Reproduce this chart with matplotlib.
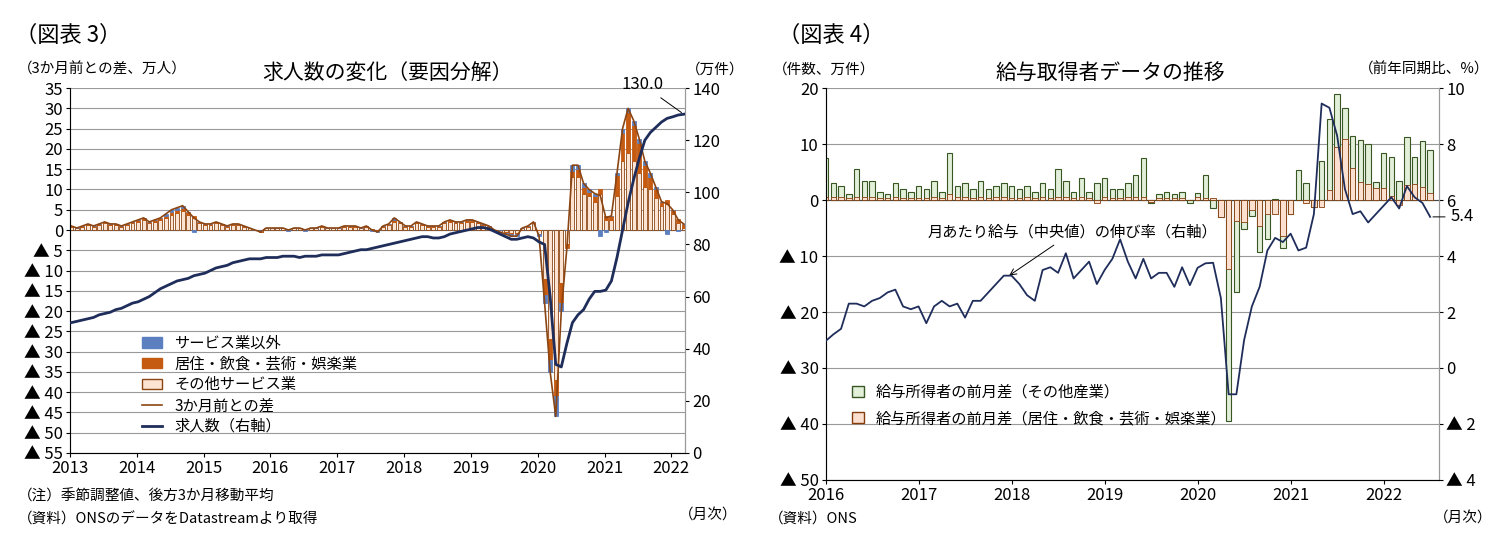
import matplotlib
matplotlib.use("Agg")
import matplotlib.pyplot as plt
from matplotlib.patches import Patch
from matplotlib.lines import Line2D
import numpy as np

plt.rcParams["font.family"] = ["Noto Sans CJK JP", "DejaVu Sans"]

# ---------------- Left chart data (2013-01 .. 2022-03, monthly) ----------------
diff_total = [
    1, 0.5, 1, 1.5, 1, 1.5, 2, 1.5, 1.5, 1, 1.5, 2,
    2.5, 3, 2, 2.5, 3, 4, 5, 5.5, 6, 4.5, 3, 2,
    1.5, 1.5, 2, 1.5, 1, 1.5, 1.5, 1, 0.5, 0, -0.5, 0.5,
    0.5, 0.5, 0.5, 0, 0.5, 0.5, 0, 0.5, 0.5, 1, 0.5, 0.5,
    0.5, 1, 1, 1, 0.5, 1, 0, -0.5, 1, 1.5, 3, 2,
    1, 1, 2, 1.5, 1, 1, 1, 2, 2.5, 2, 2, 2.5,
    2.5, 2, 1.5, 1, 0, -0.5, -1, -1.5, -1.5, 0.5, 1, 2,
    -1.5, -18, -35, -46, -20, -4.5, 16, 16, 11.5, 10, 9, 8.5,
    3, 3.5, 14, 25, 30, 27, 22.5, 17, 14, 10.5, 7, 6.5,
    5, 2.5, 1.5]
hosp = [
    0.2, 0, 0.2, 0.2, 0.2, 0.2, 0.3, 0.2, 0.2, 0.2, 0.2, 0.3,
    0.4, 0.5, 0.3, 0.4, 0.5, 0.6, 0.8, 0.8, 0.9, 0.7, 0.5, 0.3,
    0.2, 0.2, 0.3, 0.2, 0.2, 0.2, 0.2, 0.2, 0, 0, -0.1, 0,
    0, 0, 0, 0, 0, 0, 0, 0, 0, 0.2, 0, 0,
    0, 0.2, 0.2, 0.2, 0, 0.2, 0, -0.1, 0.2, 0.2, 0.4, 0.3,
    0.2, 0.2, 0.3, 0.2, 0.2, 0.2, 0.2, 0.3, 0.4, 0.3, 0.3, 0.4,
    0.4, 0.3, 0.2, 0.2, 0, -0.1, -0.2, -0.2, -0.2, 0, 0.2, 0.3,
    0, -4, -5, -4, -5, -1, 1.5, 2, 1.5, 1, 1.5, 1,
    1, 1, 5, 7, 10, 9, 7.5, 5.5, 3, 2, 1, 1,
    1, 1, 1]
nonserv = [
    0, 0, 0, 0, 0, 0, 0, 0, 0, 0, 0, 0,
    0, 0, 0, 0, 0, 0.5, 0.5, 0.5, 0.5, 0, -0.5, 0,
    0, 0, 0, 0, 0, 0, 0, 0, 0, 0, 0, 0,
    0, 0, 0, -0.3, 0, 0, -0.3, 0, 0, 0, 0, 0,
    0, 0, 0, 0, 0, 0, -0.3, -0.3, 0, 0, 0.5, 0,
    0, 0, 0, 0, 0, 0, 0, 0, 0, 0, 0, 0,
    0, 0, 0, 0, 0, 0, -0.3, -0.5, -0.5, 0, 0, 0,
    -0.5, -2, -3, -5, -2, 0, 1.5, 1, 1, 0.5, 0.5, -1.5,
    -0.5, 0, 0.5, 1, 1, 1, 1, 1, 1, 0.5, 0, -1,
    0, -0.3, 0]
vacancies = [
    50, 50.5, 51, 51.5, 52, 53, 53.5, 54, 55, 55.5, 56.5, 57.5,
    58, 59, 60, 61.5, 63, 64, 65, 66, 66.5, 67, 68, 68.5,
    69, 70, 71, 71.5, 72, 73, 73.5, 74, 74.5, 74.5, 74.5, 75,
    75, 75, 75.5, 75.5, 75.5, 75, 75.5, 75.5, 75.5, 76, 76, 76,
    76, 76.5, 77, 77.5, 78, 78, 78.5, 79, 79.5, 80, 80.5, 81,
    81.5, 82, 82.5, 83, 83, 82.5, 82.5, 83, 84, 84.5, 85, 85.5,
    86, 86.5, 86.5, 86, 85, 84, 83, 82, 82, 82.5, 83, 82.5,
    81, 80, 60, 34, 33, 42, 50, 53, 55, 59, 62, 62,
    62.5, 66, 75, 85.5, 96, 105, 113, 120, 123, 125, 127, 128.4,
    129, 129.7, 130.0]
left_years = [2013, 2014, 2015, 2016, 2017, 2018, 2019, 2020, 2021, 2022]

# ---------------- Right chart data (2016-01 .. 2022-07, monthly) ----------------
emp_total = [
    7.5, 3, 2.5, 1, 5.5, 3.5, 3.5, 1.5, 1, 3, 2, 1.5,
    2.5, 2, 3.5, 1.5, 8.5, 2.5, 3, 2, 3.5, 2, 2.5, 3,
    2.5, 2, 2.5, 1.5, 3, 2, 5.5, 3.5, 1.5, 4, 1.5, 3,
    4, 2, 2, 3, 4.5, 7.5, -0.5, 1, 1.5, 1, 1.5, -0.5,
    1.2, 4.5, -1.4, -3, -39.5, -16.5, -5.2, -2.8, -9.3, -7, 0.2, -8.6,
    -2.5, 5.3, 3, -1.2, 7, 14.5, 19, 16.5, 11.5, 10.8, 10, 3.3,
    8.5, 7.7, 3.5, 11.3, 7.7, 10.5, 9]
emp_hosp = [
    0.5, 0.5, 0.5, 0.3, 0.5, 0.5, 0.5, 0.3, 0.3, 0.5, 0.3, 0.3,
    0.3, 0.3, 0.5, 0.3, 1, 0.5, 0.5, 0.3, 0.5, 0.3, 0.5, 0.5,
    0.3, 0.3, 0.5, 0.3, 0.5, 0.3, 0.5, 0.5, 0.3, 0.5, 0.3, -0.5,
    0.5, 0.3, 0.3, 0.5, 0.5, 0.5, -0.3, 0.3, 0.3, 0.3, 0.3, 0,
    0.6, 0.4, 0.3, -3, -12.4, -3.8, -4, -1.7, -4.7, -2.4, -2.5, -6.5,
    -2.5, 0, -0.5, -1.2, -1.2, 1.8, 9.5, 11, 5.8, 3.3, 2.8, 2.2,
    2.2, 0.8, -0.8, 2.7, 2.9, 2.4, 1.2]
wage_growth = [
    0.96, 1.2, 1.4, 2.3, 2.3, 2.2, 2.4, 2.5, 2.7, 2.8, 2.2, 2.1,
    2.2, 1.6, 2.2, 2.4, 2.2, 2.3, 1.8, 2.4, 2.4, 2.7, 3.0, 3.3,
    3.3, 3.0, 2.6, 2.4, 3.5, 3.6, 3.4, 4.1, 3.2, 3.5, 3.8, 3.0,
    3.5, 3.9, 4.6, 3.8, 3.2, 3.9, 3.2, 3.4, 3.4, 2.9, 3.6, 2.96,
    3.58, 3.74, 3.76, 2.5, -0.94, -0.94, 1.0, 2.2, 2.9, 4.2, 4.65, 4.5,
    4.8, 4.2, 4.3, 5.5, 9.45, 9.3, 8.3, 6.4, 5.5, 5.6, 5.2, 5.5,
    5.8, 6.1, 5.7, 6.5, 6.1, 5.9, 5.4]
right_years = [2016, 2017, 2018, 2019, 2020, 2021, 2022]


def neg_label(v):
    v = int(round(v))
    return f"▲ {abs(v)}" if v < 0 else f"{v}"


fig = plt.figure(figsize=(15.01, 5.51), dpi=100)

# ====================== LEFT ======================
ax = fig.add_axes([0.0466, 0.178, 0.41, 0.662])
n = len(diff_total)
xl = np.array([2013 + i / 12 + 0.02 for i in range(n)])
other = [t - h - s for t, h, s in zip(diff_total, hosp, nonserv)]
w = 1 / 12 * 0.7
pos_b = np.zeros(n)
neg_b = np.zeros(n)
for vals, fc, ec in [(other, "#fde3d2", "#8b4513"), (hosp, "#c55a11", "#c55a11"),
                     (nonserv, "#5b7fbf", "#5b7fbf")]:
    v = np.array(vals, dtype=float)
    bottom = np.where(v >= 0, pos_b, neg_b)
    ax.bar(xl, v, bottom=bottom, width=w, color=fc, edgecolor=ec, linewidth=0.6, zorder=3)
    pos_b = pos_b + np.where(v >= 0, v, 0)
    neg_b = neg_b + np.where(v < 0, v, 0)
ax.plot(xl, diff_total, color="#8b4513", lw=1.2, zorder=4)
ax.set_ylim(-55, 35)
ax.set_xlim(2013, 2022.21)
ax.set_yticks(range(-55, 36, 5))
ax.set_yticklabels([neg_label(v) for v in range(-55, 36, 5)], fontsize=12)
ax.yaxis.grid(True, color="#999999", lw=0.8, zorder=0)
ax.set_axisbelow(True)
ax.axhline(0, color="#666666", lw=0.8, zorder=2)
ax.set_xticks(left_years)
ax.set_xticklabels([str(y) for y in left_years], fontsize=12)
ax.tick_params(axis="both", length=3, pad=2)
ax.spines["top"].set_visible(False)
for s in ["left", "right", "bottom"]:
    ax.spines[s].set_color("#999999")

ax2 = ax.twinx()
ax2.plot(xl, vacancies, color="#1f2d5a", lw=2, zorder=5)
ax2.set_ylim(0, 140)
ax2.set_yticks(range(0, 141, 20))
ax2.tick_params(axis="y", labelsize=12, length=3, pad=2)
ax2.spines["top"].set_visible(False)
ax2.spines["right"].set_color("#999999")
ax2.annotate("130.0", xy=(xl[-1], vacancies[-1]), xytext=(xl[-1] - 0.3, 138),
             fontsize=12, ha="right", va="bottom",
             arrowprops=dict(arrowstyle="-", color="black", lw=0.7))

handles = [Patch(facecolor="#5b7fbf", edgecolor="#5b7fbf"),
           Patch(facecolor="#c55a11", edgecolor="#c55a11"),
           Patch(facecolor="#fde3d2", edgecolor="#8b4513"),
           Line2D([], [], color="#8b4513", lw=1.2),
           Line2D([], [], color="#1f2d5a", lw=2)]
labels = ["サービス業以外", "居住・飲食・芸術・娯楽業", "その他サービス業", "3か月前との差", "求人数（右軸）"]
ax.legend(handles, labels, loc="lower left", bbox_to_anchor=(0.1, 0.02), frameon=False,
          fontsize=11, handlelength=1.3, labelspacing=0.25, borderpad=0.2)

fig.text(0.01, 0.935, "（図表 3）", fontsize=16, ha="left", va="center")
fig.text(0.258, 0.868, "求人数の変化（要因分解）", fontsize=15, ha="center", va="center")
fig.text(0.012, 0.873, "（3か月前との差、万人）", fontsize=10.5, ha="left", va="center")
fig.text(0.457, 0.873, "（万件）", fontsize=10.5, ha="left", va="center")
fig.text(0.012, 0.099, "（注）季節調整値、後方3か月移動平均", fontsize=10.5, ha="left", va="center")
fig.text(0.012, 0.058, "（資料）ONSのデータをDatastreamより取得", fontsize=10.5, ha="left", va="center")
fig.text(0.452, 0.065, "（月次）", fontsize=10.5, ha="left", va="center")

# ====================== RIGHT ======================
bx = fig.add_axes([0.550, 0.129, 0.409, 0.711])
m = len(emp_total)
xr = np.array([2016 + i / 12 for i in range(m)])
wr = 1 / 12 * 0.72
bx.bar(xr, emp_total, width=wr, color="#e2efd9", edgecolor="#385723", linewidth=0.8, zorder=3)
bx.bar(xr, emp_hosp, width=wr, color="#fbe0cf", edgecolor="#843c0c", linewidth=0.6, zorder=4)
bx.set_ylim(-50, 20)
bx.set_xlim(2016, 2022.6)
bx.set_yticks(range(-50, 21, 10))
bx.set_yticklabels([neg_label(v) for v in range(-50, 21, 10)], fontsize=12)
bx.yaxis.grid(True, color="#999999", lw=0.8, zorder=0)
bx.set_axisbelow(True)
bx.axhline(0, color="#444444", lw=0.8, zorder=2)
bx.set_xticks(right_years)
bx.set_xticklabels([str(y) for y in right_years], fontsize=12)
bx.tick_params(axis="both", length=3, pad=2)
bx.spines["top"].set_visible(False)
for s in ["left", "right", "bottom"]:
    bx.spines[s].set_color("#999999")

bx2 = bx.twinx()
bx2.plot(xr, wage_growth, color="#1f2d5a", lw=1.3, zorder=5)
bx2.set_ylim(-4, 10)
bx2.set_yticks(range(-4, 11, 2))
bx2.set_yticklabels([neg_label(v) for v in range(-4, 11, 2)], fontsize=12)
bx2.tick_params(axis="y", length=3, pad=2)
bx2.spines["top"].set_visible(False)
bx2.spines["right"].set_color("#999999")
bx2.annotate(f"{wage_growth[-1]:.1f}", xy=(xr[-1], wage_growth[-1]), xytext=(2022.72, wage_growth[-1]),
             fontsize=12, ha="left", va="center", annotation_clip=False,
             arrowprops=dict(arrowstyle="-", color="black", lw=0.7))
bx2.annotate("月あたり給与（中央値）の伸び率（右軸）", xy=(2017.95, 3.25), xytext=(2017.1, 4.85),
             fontsize=11, ha="left", va="center",
             arrowprops=dict(arrowstyle="->", color="black", lw=0.7))

handles_r = [Patch(facecolor="#e2efd9", edgecolor="#385723"),
             Patch(facecolor="#fbe0cf", edgecolor="#843c0c")]
labels_r = ["給与所得者の前月差（その他産業）", "給与所得者の前月差（居住・飲食・芸術・娯楽業）"]
bx.legend(handles_r, labels_r, loc="lower left", bbox_to_anchor=(0.02, 0.1), frameon=False,
          fontsize=11, handlelength=0.8, labelspacing=0.6)

fig.text(0.518, 0.935, "（図表 4）", fontsize=16, ha="left", va="center")
fig.text(0.74, 0.868, "給与取得者データの推移", fontsize=15, ha="center", va="center")
fig.text(0.515, 0.873, "（件数、万件）", fontsize=10.5, ha="left", va="center")
fig.text(0.905, 0.873, "（前年同期比、%）", fontsize=10.5, ha="left", va="center")
fig.text(0.512, 0.058, "（資料）ONS", fontsize=10.5, ha="left", va="center")
fig.text(0.955, 0.058, "（月次）", fontsize=10.5, ha="left", va="center")

fig.savefig("out.png", dpi=100)
